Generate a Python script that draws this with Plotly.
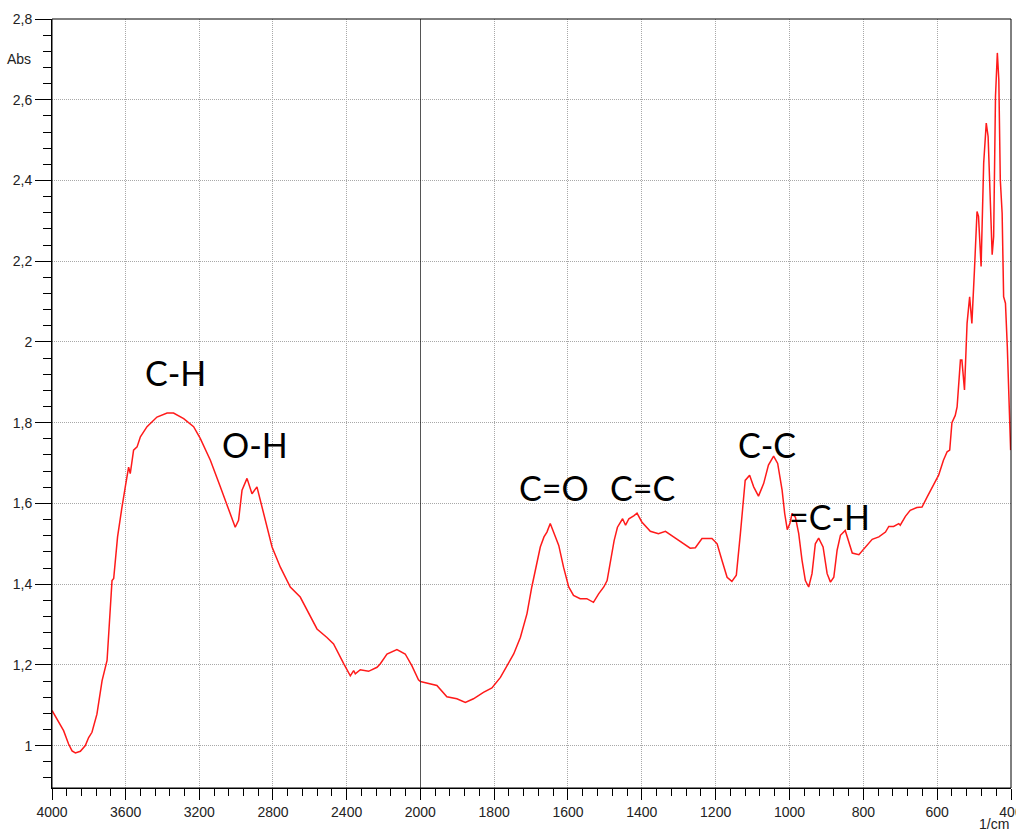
import plotly.graph_objects as go

# Wavenumber (1/cm) and absorbance
wavenumber = [
    4000, 3946, 3937, 3910, 3891, 3873, 3846, 3819, 3801, 3783, 3756, 3728, 3701, 3674, 3665,
    3644, 3638, 3620, 3602, 3584, 3575, 3557, 3538, 3520, 3484, 3430, 3375, 3340, 3285, 3231,
    3195, 3140, 3086, 3041, 3005, 2987, 2968, 2941, 2914, 2887, 2860, 2805, 2760, 2706, 2652,
    2615, 2561, 2507, 2471, 2416, 2380, 2362, 2353, 2326, 2281, 2235, 2217, 2181, 2163, 2127,
    2082, 2046, 2010, 2000, 1973, 1955, 1928, 1901, 1878, 1856, 1829, 1806, 1783, 1761, 1747,
    1729, 1711, 1698, 1684, 1675, 1665, 1657, 1648, 1639, 1625, 1612, 1598, 1585, 1567, 1549,
    1531, 1517, 1503, 1494, 1485, 1475, 1466, 1452, 1444, 1435, 1421, 1413, 1400, 1377, 1355,
    1336, 1314, 1291, 1269, 1255, 1237, 1210, 1196, 1183, 1169, 1156, 1144, 1133, 1120, 1108,
    1097, 1084, 1070, 1057, 1043, 1032, 1020, 1013, 1006, 999, 993, 984, 975, 966, 957,
    948, 939, 930, 921, 909, 898, 889, 880, 871, 862, 849, 839, 830, 812, 794,
    776, 758, 740, 731, 718, 704, 700, 686, 673, 655, 641, 627, 610, 596, 583,
    573, 566, 560, 551, 546, 537, 533, 526, 519, 512, 506, 499, 492, 488, 481,
    474, 467, 462, 456, 451, 447, 442, 437, 433, 429, 424, 420, 415, 410, 401,
]
absorbance = [
    1.087, 1.045, 1.037, 1.004, 0.987, 0.982, 0.986, 1.000, 1.020, 1.033, 1.078, 1.161, 1.211, 1.409, 1.414,
    1.517, 1.533, 1.591, 1.641, 1.690, 1.674, 1.732, 1.740, 1.765, 1.790, 1.814, 1.824, 1.824, 1.810, 1.790,
    1.761, 1.707, 1.641, 1.583, 1.541, 1.558, 1.633, 1.662, 1.624, 1.641, 1.591, 1.492, 1.442, 1.393, 1.368,
    1.335, 1.289, 1.268, 1.252, 1.203, 1.173, 1.186, 1.178, 1.188, 1.184, 1.194, 1.203, 1.227, 1.231, 1.238,
    1.227, 1.198, 1.163, 1.159, 1.153, 1.149, 1.121, 1.116, 1.107, 1.116, 1.132, 1.143, 1.169, 1.203, 1.227,
    1.268, 1.327, 1.393, 1.459, 1.492, 1.517, 1.529, 1.550, 1.529, 1.496, 1.442, 1.393, 1.372, 1.364, 1.364,
    1.355, 1.376, 1.393, 1.409, 1.459, 1.508, 1.541, 1.562, 1.546, 1.562, 1.570, 1.576, 1.554, 1.531, 1.525,
    1.531, 1.517, 1.502, 1.489, 1.490, 1.513, 1.513, 1.500, 1.459, 1.417, 1.407, 1.422, 1.525, 1.657, 1.670,
    1.641, 1.618, 1.649, 1.695, 1.717, 1.699, 1.633, 1.575, 1.535, 1.550, 1.575, 1.566, 1.525, 1.459, 1.409,
    1.393, 1.426, 1.500, 1.514, 1.492, 1.426, 1.405, 1.417, 1.484, 1.521, 1.533, 1.504, 1.477, 1.473, 1.492,
    1.511, 1.517, 1.529, 1.543, 1.543, 1.550, 1.546, 1.568, 1.583, 1.590, 1.591, 1.616, 1.645, 1.670, 1.707,
    1.728, 1.732, 1.800, 1.818, 1.839, 1.955, 1.955, 1.881, 2.046, 2.112, 2.046, 2.178, 2.323, 2.311, 2.187,
    2.443, 2.542, 2.509, 2.344, 2.216, 2.261, 2.608, 2.716, 2.650, 2.402, 2.319, 2.112, 2.096, 1.988, 1.732,
]

# Axis ticks and labels
x_left_ticks = [4000, 3600, 3200, 2800, 2400, 2000]
x_right_ticks = [1800, 1600, 1400, 1200, 1000, 800, 600, 400]
y_ticks = [1.0, 1.2, 1.4, 1.6, 1.8, 2.0, 2.2, 2.4, 2.6, 2.8]
y_ticklabels = ["1", "1,2", "1,4", "1,6", "1,8", "2", "2,2", "2,4", "2,6", "2,8"]

# Band labels
band_labels = ["C-H", "O-H", "C=O", "C=C", "C-C", "=C-H"]
band_x = [3330, 2896, 1637, 1397, 1060, 891]
band_y = [1.925, 1.747, 1.639, 1.639, 1.747, 1.568]

split = 2000
left_x = [w for w in wavenumber if w >= split]
left_y = [a for w, a in zip(wavenumber, absorbance) if w >= split]
right_x = [w for w in wavenumber if w <= split]
right_y = [a for w, a in zip(wavenumber, absorbance) if w <= split]

fig = go.Figure()
line_style = dict(color="#ff1a1a", width=1.5)
fig.add_trace(go.Scatter(x=left_x, y=left_y, mode="lines", line=line_style,
                         xaxis="x", yaxis="y", showlegend=False))
fig.add_trace(go.Scatter(x=right_x, y=right_y, mode="lines", line=line_style,
                         xaxis="x2", yaxis="y", showlegend=False))

tick_font = dict(family="Liberation Sans Narrow, Liberation Sans, Arial", size=14, color="#222")
grid = dict(showgrid=True, gridcolor="#a8a8a8", griddash="1px,1px", gridwidth=1)

left_frac = 368.3 / 959.0

fig.update_layout(
    width=1016, height=834,
    margin=dict(l=52, r=5, t=19, b=46, autoexpand=False),
    paper_bgcolor="white", plot_bgcolor="white",
    xaxis=dict(
        domain=[0, left_frac], range=[4000, 2000], anchor="y", automargin=False,
        tickmode="array", tickvals=x_left_ticks, ticktext=[str(v) for v in x_left_ticks],
        ticks="outside", ticklen=11, tickcolor="black", tickwidth=1,
        minor=dict(dtick=80, tick0=0, ticks="outside", ticklen=7, tickcolor="black", showgrid=False),
        showline=True, linecolor="black", linewidth=1, zeroline=False,
        ticklabeloverflow="allow", tickfont=tick_font, **grid,
    ),
    xaxis2=dict(
        domain=[left_frac, 1], range=[2000, 400], anchor="y", automargin=False,
        tickmode="array", tickvals=x_right_ticks, ticktext=[str(v) for v in x_right_ticks],
        ticks="outside", ticklen=11, tickcolor="black", tickwidth=1,
        minor=dict(dtick=40, tick0=0, ticks="outside", ticklen=7, tickcolor="black", showgrid=False),
        showline=True, linecolor="black", linewidth=1, zeroline=False,
        ticklabeloverflow="allow", tickfont=tick_font, **grid,
    ),
    yaxis=dict(
        range=[0.895, 2.8], anchor="x", automargin=False,
        tickmode="array", tickvals=y_ticks, ticktext=y_ticklabels,
        ticks="outside", ticklen=16, tickcolor="black", tickwidth=1,
        minor=dict(dtick=0.04, tick0=0, ticks="outside", ticklen=8, tickcolor="black", showgrid=False),
        showline=True, linecolor="black", linewidth=1, zeroline=False,
        ticklabeloverflow="allow", tickfont=tick_font, **grid,
    ),
    shapes=[
        dict(type="rect", xref="paper", yref="paper", x0=0, x1=1, y0=0, y1=1,
             line=dict(color="black", width=1)),
        dict(type="line", xref="x2", yref="paper", x0=2000, x1=2000, y0=0, y1=1,
             line=dict(color="black", width=1.3)),
    ],
)

annotations = []
for txt, bx, by in zip(band_labels, band_x, band_y):
    ax = "x" if bx >= split else "x2"
    annotations.append(dict(text=txt, x=bx, y=by, xref=ax, yref="y", showarrow=False,
                            font=dict(family="Lato, Open Sans, sans-serif", size=34, color="black"),
                            xanchor="center", yanchor="middle"))
annotations.append(dict(text="Abs", x=0, y=2.7, xref="paper", yref="y", showarrow=False,
                        xanchor="right", yanchor="middle", xshift=-19, font=tick_font))
annotations.append(dict(text="1/cm", x=1, y=0, xref="paper", yref="paper", showarrow=False,
                        xanchor="right", yanchor="middle", yshift=-36, font=tick_font))
fig.update_layout(annotations=annotations)

fig.write_html(
    "out.html",
    config={"responsive": False, "displayModeBar": False},
    post_script="document.body.style.margin='0px';"
                "document.body.style.overflow='hidden';"
                "document.documentElement.style.overflow='hidden';",
)
